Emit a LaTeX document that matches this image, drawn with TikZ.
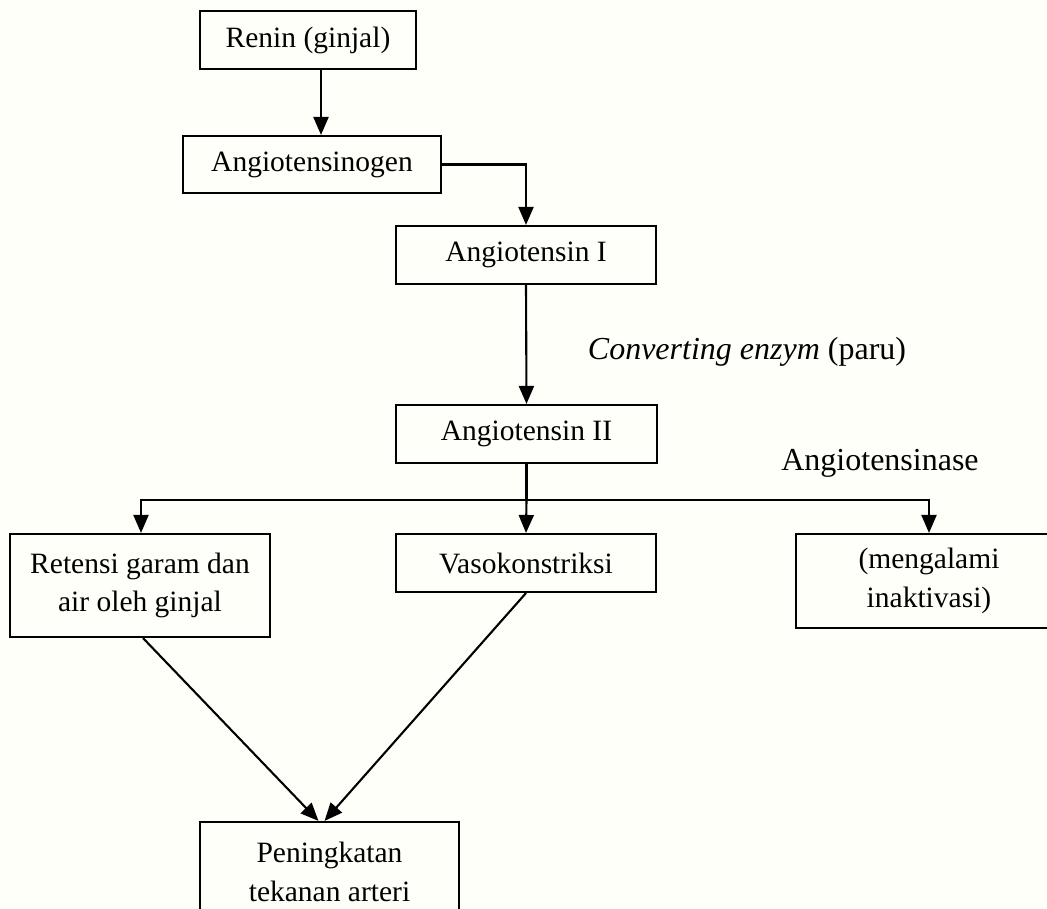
\documentclass[tikz,border=0pt]{standalone}
\usepackage{fontspec}
\setmainfont{Liberation Serif}
\usetikzlibrary{arrows.meta,calc}
\begin{document}
\begin{tikzpicture}[x=1pt,y=-1pt,
  box/.style={draw=black,line width=2.1pt,rectangle,inner sep=0pt,align=center,
              font=\fontsize{29.5}{38.5}\selectfont},
  link/.style={line width=2.1pt,-{Triangle[width=15pt,length=18pt]}},
  plain/.style={line width=2.1pt},
  lbl/.style={font=\fontsize{32}{38.5}\selectfont,inner sep=0pt}]
  % page area
  \fill[white!98!yellow] (0,0) rectangle (1047,908);
  \useasboundingbox (0,0) rectangle (1047,908);

  % boxes
  \node[box,minimum width=216pt,minimum height=58pt] (renin) at (308,40) {Renin (ginjal)};
  \node[box,minimum width=258pt,minimum height=57pt] (agen) at (312,164.5) {Angiotensinogen};
  \node[box,minimum width=260pt,minimum height=58pt] (a1) at (526,255) {Angiotensin I};
  \node[box,minimum width=261pt,minimum height=58pt] (a2) at (526.5,434) {Angiotensin II};
  \node[box,minimum width=260pt,minimum height=103pt] (ret) at (140,585.5) {Retensi garam dan\\air oleh ginjal};
  \node[box,minimum width=260pt,minimum height=58pt] (vaso) at (526,563) {Vasokonstriksi};
  \node[box,minimum width=266pt,minimum height=94pt] (inak) at (929,581) {(mengalami\\inaktivasi)};
  \node[box,minimum width=259pt,minimum height=100pt] (tek) at (329.5,872) {Peningkatan\\tekanan arteri};

  % labels
  \node[lbl] (ce) at (747,352) {\textit{Converting enzym} (paru)};
  \node[lbl] (ase) at (880,463) {Angiotensinase};

  % connectors
  \draw[link] ([xshift=13pt]renin.south) -- ([xshift=13pt]renin.south |- agen.north);
  \draw[link] (agen.east) -| (a1.north);
  \draw[link] (a1.south) -- (a2.north);
  \coordinate (split) at ($(a2.south)+(0,36)$);
  \draw[plain] (a2.south) -- (split);
  \draw[link] (split) -| ([xshift=1pt]ret.north);
  \draw[link] (split) -| (inak.north);
  \draw[link] (split) -- (vaso.north);
  \draw[link] ([xshift=3pt]ret.south) -- ([xshift=-11pt]tek.north);
  \draw[link] (vaso.south) -- ([xshift=-5pt]tek.north);
\end{tikzpicture}
\end{document}
